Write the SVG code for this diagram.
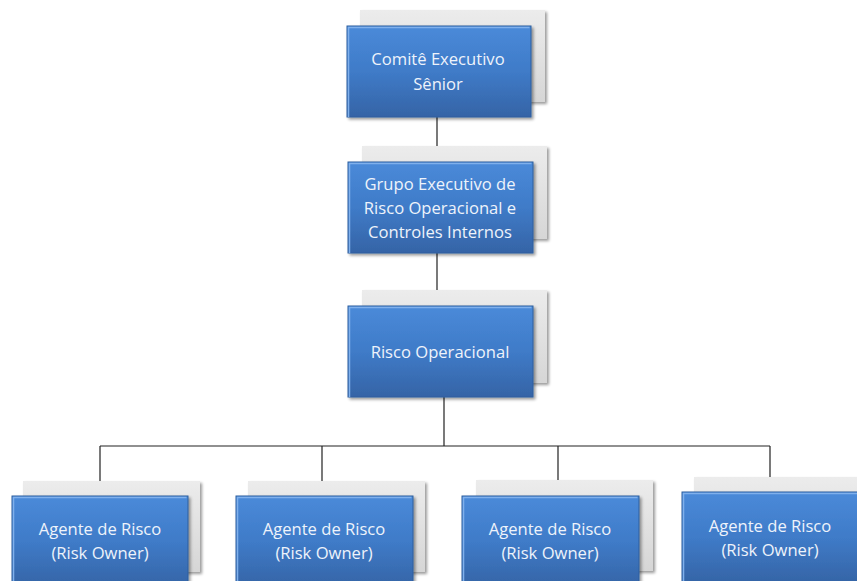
<svg xmlns="http://www.w3.org/2000/svg" width="857" height="581" viewBox="0 0 857 581">
<defs>
<linearGradient id="blue" x1="0" y1="0" x2="0" y2="1">
<stop offset="0" stop-color="#4a8ad9"/>
<stop offset="0.5" stop-color="#3f7bc8"/>
<stop offset="1" stop-color="#3564a6"/>
</linearGradient>
<linearGradient id="gray" x1="0" y1="0" x2="0" y2="1">
<stop offset="0" stop-color="#ececec"/>
<stop offset="1" stop-color="#d6d6d6"/>
</linearGradient>
<filter id="sh" x="-10%" y="-10%" width="125%" height="125%">
<feGaussianBlur in="SourceAlpha" stdDeviation="1.5"/>
<feOffset dx="1.5" dy="2" result="b"/>
<feComponentTransfer><feFuncA type="linear" slope="0.4"/></feComponentTransfer>
<feMerge><feMergeNode/><feMergeNode in="SourceGraphic"/></feMerge>
</filter>
</defs>
<style>
.bk{fill:url(#gray);filter:url(#sh)}
.bx{fill:url(#blue);stroke:#2f5f9e;stroke-width:1;filter:url(#sh)}
.hl{fill:none;stroke:#7fb0ec;stroke-width:1.5}
.t{font-family:"Open Sans","Liberation Sans",Arial,sans-serif;font-size:16.6px;fill:#eef3fb;text-anchor:middle}
.c{stroke:#222;stroke-width:1.2;fill:none}
</style>
<g id="connectors">
<path class="c" d="M437 117V162M437 253V306M444 397V446M100 446H770M100 446V496M322 446V496M558 446V496M770 446V492"/>
</g>
<g id="n1">
<rect class="bk" x="360" y="10" width="185" height="92"/>
<rect class="bx" x="347" y="26" width="184" height="91"/>
<path class="hl" d="M348.5 117V27.5H529.5"/>
<text class="t" x="438" y="65">Comitê Executivo</text>
<text class="t" x="438" y="90">Sênior</text>
</g>
<g id="n2">
<rect class="bk" x="362" y="146" width="185" height="93"/>
<rect class="bx" x="348" y="162" width="185" height="91"/>
<path class="hl" d="M349.5 253V163.5H531.5"/>
<text class="t" x="440" y="190">Grupo Executivo de</text>
<text class="t" x="440" y="214">Risco Operacional e</text>
<text class="t" x="440" y="238">Controles Internos</text>
</g>
<g id="n3">
<rect class="bk" x="362" y="290" width="185" height="93"/>
<rect class="bx" x="348" y="306" width="185" height="91"/>
<path class="hl" d="M349.5 397V307.5H531.5"/>
<text class="t" x="440" y="358">Risco Operacional</text>
</g>
<g id="n4">
<rect class="bk" x="23" y="481" width="177" height="91"/>
<rect class="bx" x="12" y="496" width="176" height="91"/>
<path class="hl" d="M13.5 587V497.5H186.5"/>
<text class="t" x="100" y="535">Agente de Risco</text>
<text class="t" x="100" y="559">(Risk Owner)</text>
</g>
<g id="n5">
<rect class="bk" x="248" y="481" width="177" height="91"/>
<rect class="bx" x="236" y="496" width="177" height="91"/>
<path class="hl" d="M237.5 587V497.5H411.5"/>
<text class="t" x="324" y="535">Agente de Risco</text>
<text class="t" x="324" y="559">(Risk Owner)</text>
</g>
<g id="n6">
<rect class="bk" x="476" y="480" width="177" height="91"/>
<rect class="bx" x="462" y="496" width="177" height="91"/>
<path class="hl" d="M463.5 587V497.5H637.5"/>
<text class="t" x="550" y="535">Agente de Risco</text>
<text class="t" x="550" y="559">(Risk Owner)</text>
</g>
<g id="n7">
<rect class="bk" x="694" y="477" width="177" height="91"/>
<rect class="bx" x="682" y="492" width="177" height="91"/>
<path class="hl" d="M683.5 583V493.5H859"/>
<text class="t" x="770" y="532">Agente de Risco</text>
<text class="t" x="770" y="556">(Risk Owner)</text>
</g>
</svg>
